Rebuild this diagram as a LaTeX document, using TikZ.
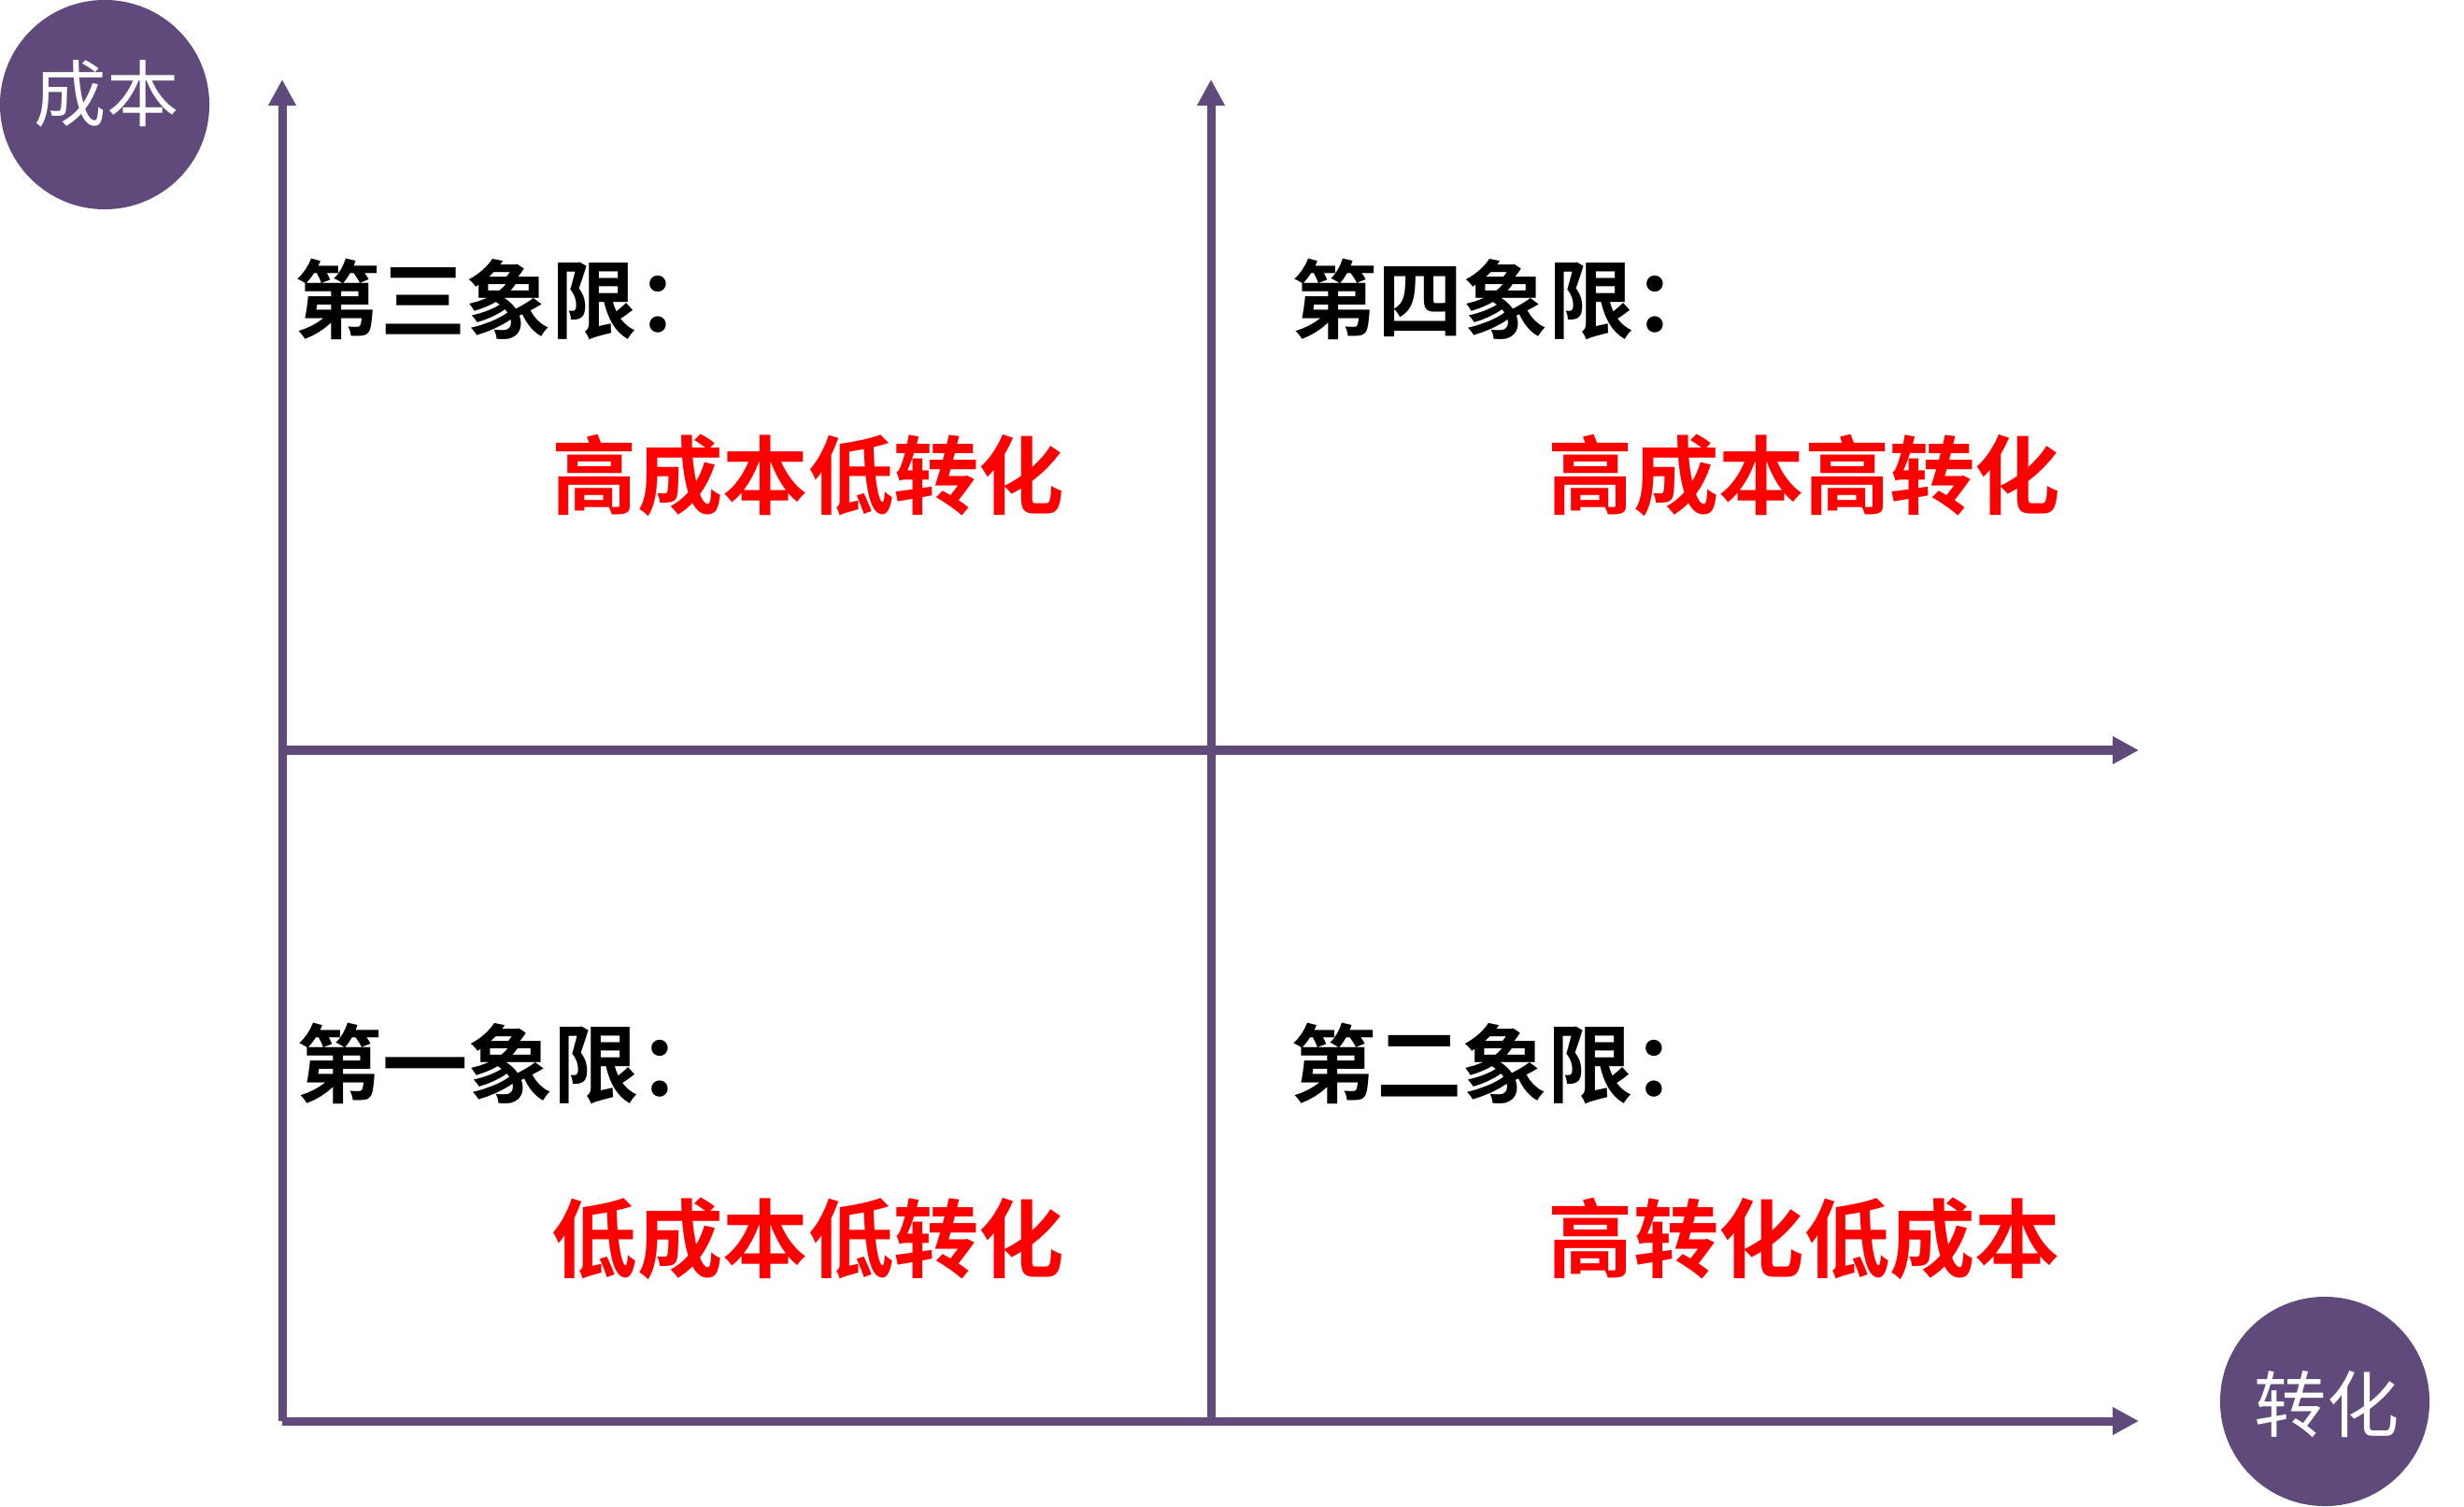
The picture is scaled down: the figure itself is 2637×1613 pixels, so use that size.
\documentclass[tikz,border=0pt]{standalone}
\usepackage{fontspec}
\newfontfamily\cjk[BoldFont={Noto Sans CJK SC Bold}]{Noto Sans CJK SC}
\usepackage{tikz}
\usetikzlibrary{arrows.meta}
\definecolor{axispurple}{HTML}{604A7B}
\definecolor{textred}{HTML}{FF0000}

\begin{document}
\begin{tikzpicture}[x=0.01cm, y=-0.01cm,
    axis/.style={axispurple, line width=0.09cm},
    axisarrow/.style={axis, -{Triangle[length=0.28cm, width=0.28cm]}},
    badge/.style={circle, fill=axispurple, minimum size=2.24cm, inner sep=0pt},
    badgetext/.style={white, font=\cjk\fontsize{22pt}{24pt}\selectfont, inner sep=0pt, anchor=base},
    quadname/.style={black, font=\cjk\bfseries\fontsize{26pt}{30pt}\selectfont, inner sep=0pt, anchor=base west},
    quadtext/.style={textred, font=\cjk\bfseries\fontsize{26pt}{30pt}\selectfont, inner sep=0pt, anchor=base west}]
    \useasboundingbox (0,0) rectangle (2637,1613);

    % axis ends
    \coordinate (O) at (302,1521);
    \coordinate (yTop) at (302,85);
    \coordinate (C) at (1296,1521);
    \coordinate (cTop) at (1296,85);
    \coordinate (mL) at (302,803);
    \coordinate (mR) at (2289,803);
    \coordinate (xR) at (2289,1521);

    \draw [axisarrow] (O) -- (yTop);
    \draw [axisarrow] (C) -- (cTop);
    \draw [axisarrow] (mL) -- (mR);
    \draw [axisarrow] (O) -- (xR);

    % axis badges
    \node [badge] (costBadge) at (112,112) {};
    \node [badgetext] (costLabel) at (114,130) {成本};
    \node [badge] (convBadge) at (2488,1500) {};
    \node [badgetext] (convLabel) at (2490,1532) {转化};

    % quadrants
    \node [quadname] (q3) at (315,356) {第三象限：};
    \node [quadtext] (q3text) at (590,544) {高成本低转化};
    \node [quadname] (q4) at (1382,356) {第四象限：};
    \node [quadtext] (q4text) at (1656,544) {高成本高转化};
    \node [quadname] (q1) at (317,1173) {第一象限：};
    \node [quadtext] (q1text) at (590,1360) {低成本低转化};
    \node [quadname] (q2) at (1381,1173) {第二象限：};
    \node [quadtext] (q2text) at (1656,1360) {高转化低成本};
\end{tikzpicture}
\end{document}
